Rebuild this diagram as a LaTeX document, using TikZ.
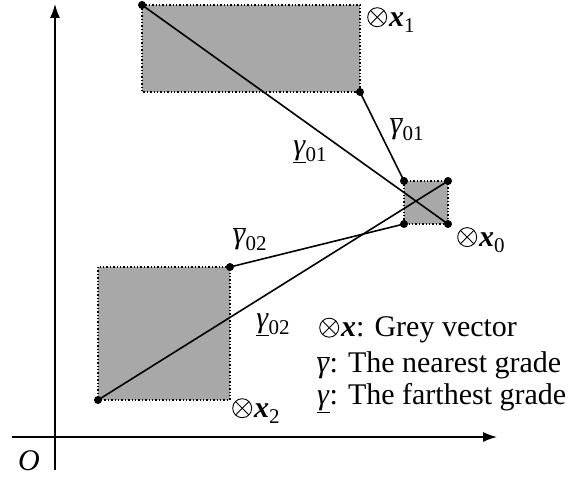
\documentclass[tikz,border=0pt]{standalone}
\usepackage{fontspec}
\setmainfont{Liberation Serif}
\usetikzlibrary{arrows.meta}
\newcommand{\gm}{\textit{γ}}
\newcommand{\og}{\ensuremath{\overline{\hbox{\gm}}}}
\newcommand{\ug}{\ensuremath{\underline{\hbox{\gm}}}}
\newcommand{\bx}{\textbf{\textit{x}}}
\newcommand{\ot}{\tikz[x=1pt,y=1pt,baseline=0pt,line width=0.9pt]{%
  \path[use as bounding box] (-1,-1) rectangle (21,19);
  \draw (10,9) circle[radius=9.5];
  \draw (10,9) ++(45:9.5) -- ++(225:19);
  \draw (10,9) ++(135:9.5) -- ++(315:19);}\hspace{1pt}}
\newcommand{\sbs}[1]{\raisebox{-0.22em}{\fontsize{21}{21}\selectfont #1}}
\tikzset{
  region/.style={fill=gray!68, draw=black, dotted, line width=1.4pt},
  link/.style={line width=1.6pt},
  pt/.style={circle, fill=black, inner sep=0pt, minimum size=8pt},
  axis/.style={line width=1.4pt, -{Latex[length=14pt,width=10pt]}},
  lab/.style={inner sep=0pt, font=\fontsize{30}{34}\selectfont}
}
\begin{document}
\begin{tikzpicture}[x=1pt,y=-1pt]
\useasboundingbox (0,0) rectangle (582,484);
% axes
\coordinate (yb) at (55,470);
\coordinate (yt) at (55,4);
\coordinate (xl) at (12,437);
\coordinate (xr) at (497,437);
\draw[axis] (yb) -- (yt);
\draw[axis] (xl) -- (xr);
\node[lab] (O) at (29,461) {\textit{O}};
% regions
\path[region] (142,5) rectangle (360,92);
\path[region] (404,181) rectangle (448,224);
\path[region] (98,267) rectangle (230,400);
% labels of regions
\node[lab, anchor=west] (x1) at (366,20) {\ot\bx\sbs{1}};
\node[lab, anchor=west] (x0) at (456,240) {\ot\bx\sbs{0}};
\node[lab, anchor=west] (x2) at (231,411) {\ot\bx\sbs{2}};
% end points
\node[pt] (a1) at (142,5) {};
\node[pt] (b1) at (360,92) {};
\node[pt] (a0) at (404,181) {};
\node[pt] (b0) at (448,181) {};
\node[pt] (c0) at (404,224) {};
\node[pt] (d0) at (448,224) {};
\node[pt] (a2) at (230,267) {};
\node[pt] (b2) at (98,400) {};
% connectors
\draw[link] (a1.center) -- (d0.center);
\draw[link] (b1.center) -- (a0.center);
\draw[link] (a2.center) -- (c0.center);
\draw[link] (b2.center) -- (b0.center);
% connector labels
\node[lab] (l1) at (310,152) {\ug\sbs{01}};
\node[lab] (l2) at (407,129) {\og\sbs{01}};
\node[lab] (l3) at (250,239) {\og\sbs{02}};
\node[lab] (l4) at (273,325) {\ug\sbs{02}};
% legend
\node[lab, anchor=west] (k1) at (318,330) {\ot\bx: Grey vector};
\node[lab, anchor=west] (k2) at (317,365) {\og: The nearest grade};
\node[lab, anchor=west] (k3) at (317,398) {\ug: The farthest grade};
\end{tikzpicture}
\end{document}
